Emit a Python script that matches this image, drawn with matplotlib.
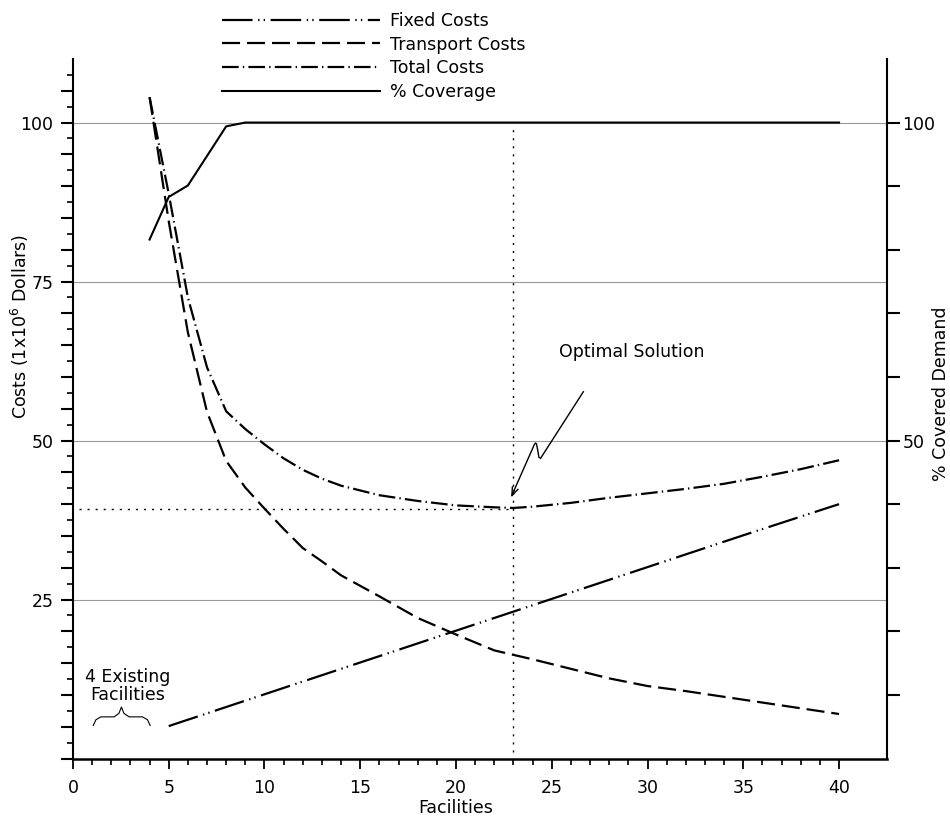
import numpy as np
import matplotlib
matplotlib.use("Agg")
import matplotlib.pyplot as plt
from matplotlib.ticker import FixedLocator, FuncFormatter

plt.rcParams["font.family"] = ["DejaVu Sans"]
plt.rcParams["lines.scale_dashes"] = False

# values
facilities = [4, 5, 6, 7, 8, 9, 10, 11, 12, 13, 14, 16, 18, 20, 22, 23, 24,
              26, 28, 30, 32, 34, 36, 38, 40]
transport_costs = [104.0, 84.5, 67.0, 54.5, 46.8, 42.6, 39.3, 36.1, 33.1, 31.0,
                   28.8, 25.5, 22.1, 19.5, 17.0, 16.3, 15.6, 14.1, 12.6, 11.4,
                   10.6, 9.7, 8.8, 7.9, 7.0]
total_costs = [104.0, 88.8, 72.5, 61.5, 54.6, 51.8, 49.4, 47.2, 45.4, 44.0,
               42.9, 41.4, 40.5, 39.8, 39.5, 39.4, 39.6, 40.2, 41.0, 41.7,
               42.4, 43.2, 44.3, 45.5, 46.9]
fixed_facilities = [5, 10, 15, 20, 25, 30, 35, 40]
fixed_costs = [5.1, 10.1, 15.1, 20.1, 25.1, 30.1, 35.1, 40.0]
coverage_facilities = [4, 5, 6, 8, 9, 10, 11, 20, 30, 40]
coverage = [81.6, 88.3, 90.1, 99.4, 100, 100, 100, 100, 100, 100]
optimal_facilities = 23
optimal_cost = 39.3
grid_levels = [25, 50, 75, 100]
cost_labels = [25, 50, 75, 100]
coverage_labels = [50, 100]

fig = plt.figure(figsize=(9.5, 8.21), dpi=100)
ax = fig.add_axes([0.0768, 0.0761, 0.8568, 0.8521])
ax2 = ax.twinx()

ax.set_xlim(0, 42.5)
ax.set_ylim(0, 110)
ax2.set_ylim(0, 110)

for g in grid_levels:
    ax.axhline(g, color="#999999", lw=0.8, zorder=1)

l_fixed, = ax.plot(fixed_facilities, fixed_costs, color="black", lw=1.6,
                   ls=(0, (22, 4, 1, 3, 1, 4)), zorder=3)
l_trans, = ax.plot(facilities, transport_costs, color="black", lw=1.6,
                   ls=(0, (13, 5)), zorder=3)
l_total, = ax.plot(facilities, total_costs, color="black", lw=1.6,
                   ls=(0, (12, 3, 1, 3)), zorder=3)
l_cov, = ax2.plot(coverage_facilities, coverage, color="black", lw=1.5, zorder=3)

# optimum guides
ax.plot([optimal_facilities, optimal_facilities], [1.0, 99.5], color="black",
        lw=1.0, ls=(0, (1.5, 4.3)), zorder=2)
ax.plot([0.3, optimal_facilities], [optimal_cost, optimal_cost], color="black",
        lw=1.0, ls=(0, (1.5, 4.3)), zorder=2)

# "Optimal Solution" callout with a break wiggle
ax.text(29.2, 63.9, "Optimal Solution", fontsize=12.5, ha="center", va="center")
wx = [26.65, 24.5, 24.42, 24.33, 24.26, 24.2, 24.14, 24.08, 22.95]
wy = [57.67, 47.6, 47.2, 47.35, 48.6, 49.5, 49.6, 49.3, 41.6]
ax.plot(wx, wy, color="black", lw=1.0, zorder=4)
ax.annotate("", xy=(22.82, 40.64), xytext=(23.1, 42.6),
            arrowprops=dict(arrowstyle="->,head_length=0.6,head_width=0.22",
                            color="black", lw=1.0), zorder=4)

# existing facilities brace
ax.text(2.86, 11.4, "4 Existing\nFacilities", fontsize=12.5, ha="center",
        va="center", linespacing=0.95)
bx = [1.06, 1.2, 1.46, 2.15, 2.4, 2.53, 2.66, 2.93, 3.63, 3.89, 4.03]
by = [5.2, 6.1, 6.55, 6.55, 7.1, 8.1, 7.1, 6.55, 6.55, 6.1, 5.2]
ax.plot(bx, by, color="black", lw=0.8)

# spines
for a in (ax, ax2):
    a.spines["top"].set_visible(False)
ax.spines["right"].set_visible(False)
ax2.spines["left"].set_visible(False)
ax2.spines["bottom"].set_visible(False)
ax.spines["left"].set_linewidth(1.5)
ax.spines["bottom"].set_linewidth(1.8)
ax2.spines["right"].set_linewidth(1.5)

# ticks
ax.xaxis.set_major_locator(FixedLocator(np.arange(0, 41, 5)))
ax.xaxis.set_minor_locator(FixedLocator(np.arange(0, 41, 1)))
ax.yaxis.set_major_locator(FixedLocator(np.arange(0, 106, 5)))
ax.yaxis.set_minor_locator(FixedLocator(np.arange(2.5, 110, 5)))
ax.yaxis.set_major_formatter(
    FuncFormatter(lambda v, p: "%d" % v if round(v) in cost_labels else ""))
ax.tick_params(axis="x", which="major", direction="out", length=7.5, width=1.3,
               labelsize=12.5, pad=7)
ax.tick_params(axis="x", which="minor", direction="out", length=4, width=1.2)
ax.tick_params(axis="y", which="major", direction="out", length=9, width=1.5,
               labelsize=12.5, pad=5)
ax.tick_params(axis="y", which="minor", direction="out", length=4.5, width=1.2)

ax2.yaxis.set_major_locator(FixedLocator(np.arange(10, 101, 10)))
ax2.yaxis.set_major_formatter(
    FuncFormatter(lambda v, p: "%d" % v if round(v) in coverage_labels else ""))
ax2.tick_params(axis="y", which="major", direction="out", length=9, width=1.5,
                labelsize=12.5, pad=2)

ax.set_xlabel("Facilities", fontsize=12.5)
ax.xaxis.set_label_coords(0.4705, -0.058)
ax.set_ylabel("Costs (1x10$^6$ Dollars)", fontsize=12.5)
ax.yaxis.set_label_coords(-0.052, 0.618)
ax2.set_ylabel("% Covered Demand", fontsize=12.5)
ax2.yaxis.set_label_coords(1.0555, 0.522)

fig.legend([l_fixed, l_trans, l_total, l_cov],
           ["Fixed Costs", "Transport Costs", "Total Costs", "% Coverage"],
           loc="upper left", bbox_to_anchor=(222 / 950, 1 - 12 / 821),
           frameon=False, fontsize=12.5, handlelength=9.1, handletextpad=0.55,
           labelspacing=0.32, borderpad=0, borderaxespad=0)

fig.savefig("out.png", dpi=100)
